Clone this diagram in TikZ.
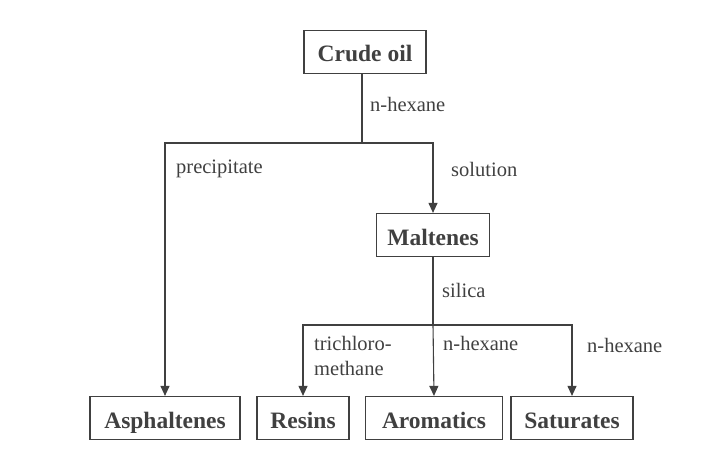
\documentclass[tikz,border=0pt]{standalone}
\usepackage{fontspec}
\setmainfont{Liberation Serif}
\usetikzlibrary{arrows.meta}
\definecolor{ink}{gray}{0.25}
\begin{document}
\begin{tikzpicture}[x=1pt, y=-1pt,
    box/.style = {draw=ink, line width=1.2pt, text=ink, minimum height=43pt, inner sep=0pt,
      text height=20pt, text depth=0pt, font=\fontsize{23.5}{26}\selectfont\bfseries},
    lbl/.style = {text=ink, anchor=base west, inner sep=0pt,
      font=\fontsize{20.5}{25}\selectfont},
    link/.style = {draw=ink, line width=1.1pt},
    arr/.style = {link, -{Triangle[length=10pt, width=9pt]}}]
  \useasboundingbox (0,0) rectangle (706,462);
  \node[box, minimum width=122pt] (crude) at (365, 52) {Crude oil} % top
  node[box, minimum width=113pt] (malt) at (433, 235) {Maltenes} % middle
  node[box, minimum width=150pt] (asph) at (165, 418) {Asphaltenes} % bottom, left
  node[box, minimum width=92pt] (resins) at (303, 418) {Resins} % bottom
  node[box, minimum width=137pt] (arom) at (434, 418) {Aromatics} % bottom
  node[box, minimum width=122pt] (sat) at (572, 418) {Saturates}; % bottom, right
  \coordinate (split1) at (362, 143);
  \coordinate (split2) at (433, 325);
  \draw[link] (crude.south -| split1) -- (split1);
  \draw[arr] (split1) -| (asph.north);
  \draw[arr] (split1) -| (malt.north);
  \draw[link] (malt) -- (split2);
  \draw[arr] (split2) -| (resins.north);
  \draw[arr] (split2) -- (arom.north);
  \draw[arr] (split2) -| (sat.north);
  \node[lbl] (hex1) at (370, 112) {n-hexane} % under crude oil
  node[lbl] (prec) at (176, 174) {precipitate}
  node[lbl] (sol) at (451, 177) {solution}
  node[lbl] (sil) at (442, 297) {silica}
  node[lbl] (tcm1) at (314, 350) {trichloro-}
  node[lbl] (tcm2) at (314, 375) {methane}
  node[lbl] (hex2) at (443, 350) {n-hexane}
  node[lbl] (hex3) at (587, 352) {n-hexane};
\end{tikzpicture}
\end{document}
